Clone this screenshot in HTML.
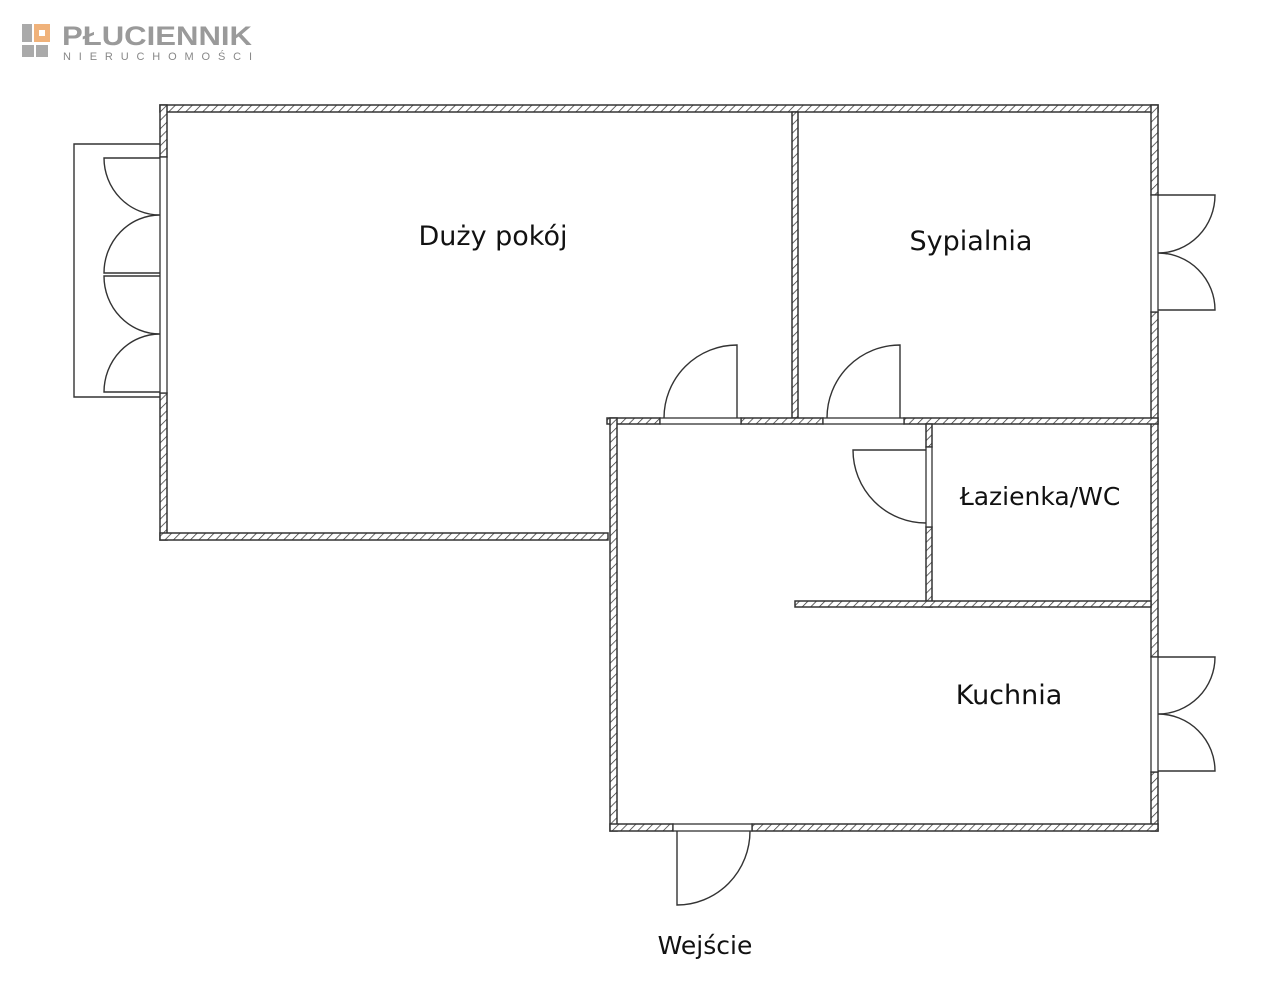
<!DOCTYPE html>
<html><head><meta charset="utf-8"><style>
body{margin:0;background:#fff;width:1280px;height:1006px;overflow:hidden}
svg{position:absolute;left:0;top:0}
text{font-family:"DejaVu Sans","Liberation Sans",sans-serif;fill:#111}
</style></head><body>
<svg width="1280" height="1006" viewBox="0 0 1280 1006">
<defs>
<pattern id="h" width="6" height="6" patternUnits="userSpaceOnUse" patternTransform="rotate(45)">
<rect width="6" height="6" fill="#fff"/><line x1="0" y1="0" x2="0" y2="6" stroke="#333" stroke-width="1.5"/>
</pattern>
</defs>
<!-- logo -->
<rect x="22" y="24" width="10" height="18" fill="#aaa"/>
<rect x="34" y="24" width="16" height="18" fill="#f0b27a"/>
<rect x="39" y="30" width="6" height="6" fill="#fff"/>
<rect x="22" y="45" width="12" height="12" fill="#aaa"/><rect x="36" y="45" width="12" height="12" fill="#aaa"/>
<text x="62" y="45" font-size="27" font-weight="bold" textLength="190" lengthAdjust="spacingAndGlyphs" style="fill:#9a9a9a;font-family:'Liberation Sans',sans-serif">PŁUCIENNIK</text>
<text x="63" y="60" font-size="11" textLength="189" style="fill:#888;font-family:'Liberation Sans',sans-serif">NIERUCHOMOŚCI</text>

<g fill="url(#h)" stroke="#333" stroke-width="1.5">
<rect x="160" y="105" width="998" height="7"/>
<rect x="160" y="105" width="7" height="52"/>
<rect x="160" y="393" width="7" height="147"/>
<rect x="160" y="533" width="448" height="7"/>
<rect x="792" y="112" width="6" height="306"/>
<rect x="1151" y="105" width="7" height="90"/>
<rect x="1151" y="312" width="7" height="345"/>
<rect x="1151" y="772" width="7" height="59"/>
<rect x="607" y="418" width="53" height="6"/>
<rect x="741" y="418" width="82" height="6"/>
<rect x="904" y="418" width="254" height="6"/>
<rect x="610" y="418" width="7" height="413"/>
<rect x="610" y="824" width="63" height="7"/>
<rect x="752" y="824" width="406" height="7"/>
<rect x="926" y="424" width="6" height="23"/>
<rect x="926" y="527" width="6" height="80"/>
<rect x="795" y="601" width="356" height="6"/>
</g>
<g fill="#fff" stroke="#333" stroke-width="1.3">
<rect x="160" y="157" width="7" height="236"/>
<rect x="660" y="418" width="81" height="6"/>
<rect x="823" y="418" width="81" height="6"/>
<rect x="926" y="447" width="6" height="80"/>
<rect x="1151" y="195" width="7" height="117"/>
<rect x="1151" y="657" width="7" height="115"/>
<rect x="673" y="824" width="79" height="7"/>
</g>
<g fill="none" stroke="#333" stroke-width="1.4">
<polyline points="160,144 74,144 74,397 160,397"/>
<path d="M160,158 H104 A56,57 0 0 0 160,215 A56,58 0 0 0 104,273 H160"/>
<path d="M160,276 H104 A56,58 0 0 0 160,334 A56,58 0 0 0 104,392 H160"/>
<path d="M1158,195 H1215 A57,58 0 0 1 1158,253 A57,57 0 0 1 1215,310 H1158"/>
<path d="M1158,657 H1215 A57,57 0 0 1 1158,714 A57,57 0 0 1 1215,771 H1158"/>
<path d="M737,418 V345 A73,73 0 0 0 664,418"/>
<path d="M900,418 V345 A73,73 0 0 0 827,418"/>
<path d="M926,450 H853 A73,73 0 0 0 926,523"/>
<path d="M677,831 V905 A73,74 0 0 0 750,831"/>
</g>
<g font-size="27" text-anchor="middle">
<text x="493" y="245">Duży pokój</text>
<text x="971" y="250">Sypialnia</text>
<text x="1040" y="505" font-size="25">Łazienka/WC</text>
<text x="1009" y="704">Kuchnia</text>
<text x="705" y="954" font-size="25">Wejście</text>
</g>
</svg>
</body></html>
